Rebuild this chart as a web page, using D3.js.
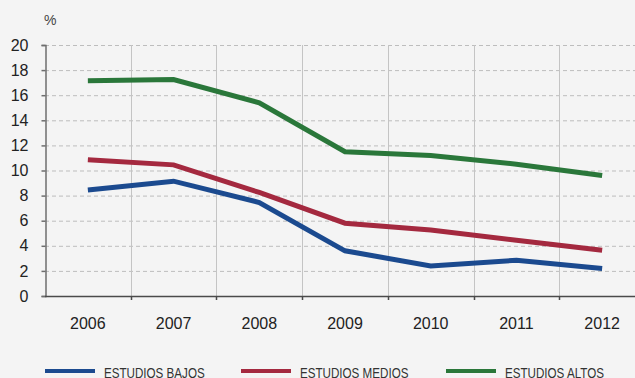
<!DOCTYPE html>
<html>
<head>
<meta charset="utf-8">
<script src="https://cdn.jsdelivr.net/npm/d3@7"></script>
<style>
  html, body { margin: 0; padding: 0; background: #f4f4f4; }
  svg { display: block; }
</style>
</head>
<body>
<div id="chart"></div>
<script>
// data
const years  = ['2006', '2007', '2008', '2009', '2010', '2011', '2012'];
const bajos  = [8.45, 9.15, 7.45, 3.6, 2.4, 2.85, 2.2];
const medios = [10.85, 10.45, 8.25, 5.8, 5.25, 4.45, 3.65];
const altos  = [17.15, 17.25, 15.4, 11.5, 11.2, 10.5, 9.6];
const yTicks = [0, 2, 4, 6, 8, 10, 12, 14, 16, 18, 20];
const series = [
  { name: 'ESTUDIOS BAJOS',  values: bajos,  color: '#1b4a8f' },
  { name: 'ESTUDIOS MEDIOS', values: medios, color: '#a4293f' },
  { name: 'ESTUDIOS ALTOS',  values: altos,  color: '#2a773a' }
];

const W = 635, H = 378;
const svg = d3.select('#chart').append('svg')
  .attr('width', W).attr('height', H);

// plot runs off the right edge like the original
const x = d3.scaleBand().domain(years).range([45, 645]);
const y = d3.scaleLinear().domain([0, 20]).range([296, 45]);

// horizontal dashed grid
svg.append('g').selectAll('line')
  .data(yTicks.filter(d => d > 0))
  .join('line')
  .attr('x1', 45).attr('x2', W)
  .attr('y1', d => y(d) + 0.5).attr('y2', d => y(d) + 0.5)
  .attr('stroke', '#bdbdbd').attr('stroke-width', 1)
  .attr('stroke-dasharray', '4,3');

// vertical solid grid at band edges
svg.append('g').selectAll('line')
  .data(years.slice(1))
  .join('line')
  .attr('x1', d => Math.round(x(d)) + 0.5).attr('x2', d => Math.round(x(d)) + 0.5)
  .attr('y1', y(20)).attr('y2', y(0))
  .attr('stroke', '#c4c4c4').attr('stroke-width', 1);

// y axis
const yAxis = svg.append('g')
  .attr('transform', 'translate(45.5,0)')
  .call(d3.axisLeft(y).tickValues(yTicks).tickSize(4).tickPadding(13));
yAxis.select('.domain').attr('stroke', '#6e6e6e').attr('stroke-width', 1.5);
yAxis.selectAll('.tick line').attr('stroke', '#6e6e6e').attr('stroke-width', 1.5);
yAxis.selectAll('text')
  .attr('font-family', 'Liberation Sans, Arial, sans-serif')
  .attr('font-size', 16).attr('fill', '#222');

// x axis: ticks on band boundaries
svg.append('line')
  .attr('x1', 45).attr('x2', W)
  .attr('y1', y(0) + 0.5).attr('y2', y(0) + 0.5)
  .attr('stroke', '#4a4a4a').attr('stroke-width', 1.5);
svg.append('g').selectAll('line')
  .data(years.slice(1))
  .join('line')
  .attr('x1', d => Math.round(x(d)) + 0.5).attr('x2', d => Math.round(x(d)) + 0.5)
  .attr('y1', y(0)).attr('y2', y(0) + 4)
  .attr('stroke', '#4a4a4a').attr('stroke-width', 1.5);
svg.append('g').selectAll('text')
  .data(years)
  .join('text')
  .attr('x', d => x(d) + x.bandwidth() / 2)
  .attr('y', 329)
  .attr('text-anchor', 'middle')
  .attr('font-family', 'Liberation Sans, Arial, sans-serif')
  .attr('font-size', 16).attr('fill', '#222')
  .text(d => d);

// unit label
svg.append('text')
  .attr('x', 44).attr('y', 25)
  .attr('font-family', 'Liberation Sans, Arial, sans-serif')
  .attr('font-size', 14).attr('fill', '#444')
  .text('%');

// lines
const line = d3.line()
  .x((d, i) => x(years[i]) + x.bandwidth() / 2)
  .y(d => y(d));
svg.append('g').selectAll('path')
  .data(series)
  .join('path')
  .attr('d', s => line(s.values))
  .attr('fill', 'none')
  .attr('stroke', s => s.color)
  .attr('stroke-width', 5)
  .attr('stroke-linejoin', 'miter');

// legend (text is squeezed horizontally to mimic the condensed face)
const legX = [45, 241, 446];
const leg = svg.append('g').selectAll('g')
  .data(series)
  .join('g')
  .attr('transform', (s, i) => `translate(${legX[i]},371)`);
leg.append('line')
  .attr('x1', 0).attr('x2', 50)
  .attr('stroke', s => s.color).attr('stroke-width', 4);
leg.append('text')
  .attr('transform', 'translate(59,6.5) scale(0.75,1)')
  .attr('font-family', 'Liberation Sans, Arial, sans-serif')
  .attr('font-size', 15.5).attr('fill', '#333')
  .text(s => s.name);
</script>
</body>
</html>
